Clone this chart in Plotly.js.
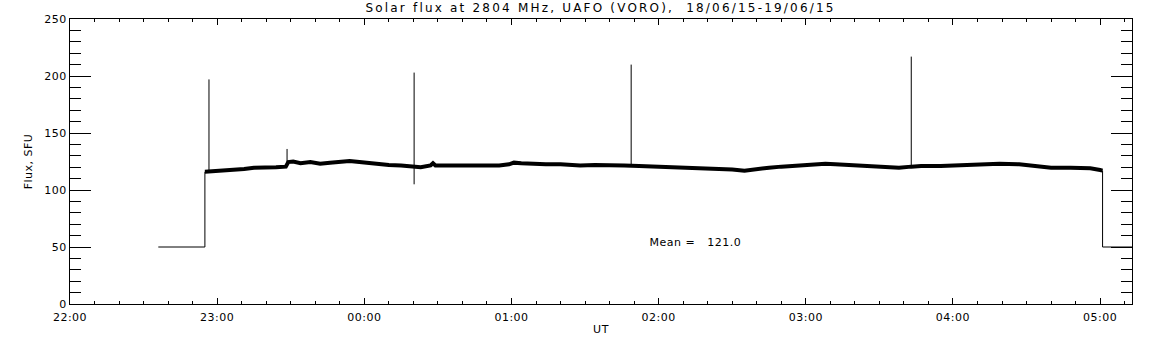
<!DOCTYPE html>
<html>
<head>
<meta charset="utf-8">
<script src="https://cdn.plot.ly/plotly-3.0.1.min.js"></script>
<style>
html,body{margin:0;padding:0;background:#fff;}
#chart{width:1152px;height:345px;}
#chart .gtitle{letter-spacing:2.2px;}
#chart .xtick text, #chart .ytick text, #chart .annotation-text, #chart .xtitle, #chart .ytitle{letter-spacing:0.5px;}
</style>
</head>
<body>
<div id="chart"></div>
<script>
// ---- data (UT times, flux in SFU) ----
const titleText = 'Solar flux at 2804 MHz, UAFO (VORO),\u00a0\u00a018/06/15-19/06/15';
const meanText = 'Mean =\u00a0\u00a0\u00a0121.0';

// receiver off (calibration level) before and after the record
const offBeforeTimes = ['22:36:00', '22:55:00'];
const offBeforeFlux = [50, 50];
const offAfterTimes = ['05:01:00', '05:13:00'];
const offAfterFlux = [50, 50];

// main record
const bandTimes = ['22:55:00','22:59:00','23:03:00','23:07:00','23:11:00','23:15:00','23:19:00','23:24:00','23:28:00',
  '23:29:00','23:31:00','23:34:00','23:38:00','23:42:00','23:46:00','23:50:00','23:54:00','23:58:00',
  '00:02:00','00:06:00','00:10:00','00:15:00','00:19:00','00:23:00','00:27:00','00:28:00','00:29:00','00:31:00',
  '00:37:00','00:43:00','00:49:00','00:55:00','00:59:00','01:01:00','01:04:00','01:08:00','01:14:00','01:20:00',
  '01:28:00','01:34:00','01:40:00','01:46:00','01:52:00','01:58:00','02:05:00','02:11:00','02:17:00','02:25:00',
  '02:30:00','02:35:00','02:38:00','02:41:00','02:45:00','02:50:00','02:56:00','03:02:00','03:08:00','03:12:00',
  '03:16:00','03:21:00','03:26:00','03:32:00','03:38:00','03:43:00','03:47:00','03:55:00','04:03:00','04:11:00',
  '04:19:00','04:27:00','04:33:00','04:40:00','04:48:00','04:56:00','05:00:00','05:01:00'];
const bandFlux = [116,116.5,117.5,118,118.5,119.5,119.5,120,120.5,
  124.5,125,123.5,124.5,123,124,125,125.5,124.5,
  123.5,122.5,122,121.5,121,120,121.5,123.5,121.5,121.5,
  121,121,121,121.5,122.5,124,123.5,123,122.5,122.5,
  121.5,122,122,121.5,121,120.5,120,119.5,119,119,
  118,117,117.5,118.5,119.5,120.5,121.5,122,123,122.5,
  122,121,121,120.5,119.5,120.5,121,121,121.5,122.5,
  123,122.5,121,119.5,119.5,119,117.5,117];

// short bursts / spikes
const spikeTimes = ['22:56:40', '23:28:30', '00:20:18', '01:48:48', '03:43:00'];
const spikeHigh = [197, 136, 203, 210, 217];
const spikeLow = [116, 121, 105, 121, 120];

// ---- helpers ----
function toDate(t) {
  const h = parseInt(t.slice(0, 2), 10);
  return (h >= 12 ? '2015-06-18 ' : '2015-06-19 ') + t;
}

// thin trace: calibration steps and spikes
const thinX = [], thinY = [];
offBeforeTimes.forEach((t, i) => { thinX.push(toDate(t)); thinY.push(offBeforeFlux[i]); });
thinX.push(toDate(bandTimes[0])); thinY.push(bandFlux[0]);
thinX.push(null); thinY.push(null);
spikeTimes.forEach((t, i) => {
  thinX.push(toDate(t)); thinY.push(spikeLow[i]);
  thinX.push(toDate(t)); thinY.push(spikeHigh[i]);
  thinX.push(null); thinY.push(null);
});
thinX.push(toDate(bandTimes[bandTimes.length - 1])); thinY.push(bandFlux[bandFlux.length - 1]);
offAfterTimes.forEach((t, i) => { thinX.push(toDate(t)); thinY.push(offAfterFlux[i]); });

const traces = [
  {
    x: bandTimes.map(toDate), y: bandFlux, type: 'scatter', mode: 'lines',
    line: {color: '#000', width: 4}, hoverinfo: 'skip'
  },
  {
    x: thinX, y: thinY, type: 'scatter', mode: 'lines', connectgaps: false,
    line: {color: '#000', width: 1}, hoverinfo: 'skip'
  }
];

const font = {family: 'DejaVu Sans, sans-serif', size: 11, color: '#000'};

const layout = {
  width: 1152, height: 345,
  margin: {l: 70, r: 20, t: 19, b: 41, pad: 0},
  paper_bgcolor: '#fff', plot_bgcolor: '#fff',
  showlegend: false,
  font: font,
  title: {text: titleText, font: {family: 'DejaVu Sans, sans-serif', size: 12, color: '#000'},
          x: 0.5213, xref: 'container', xanchor: 'center', y: 0.978, yref: 'container', yanchor: 'middle'},
  xaxis: {
    type: 'date',
    range: ['2015-06-18 22:00:00', '2015-06-19 05:13:00'],
    tick0: '2015-06-18 22:00:00', dtick: 3600000, tickformat: '%H:%M',
    ticks: 'inside', ticklen: 6, tickwidth: 1, tickcolor: '#000', ticklabelstandoff: 3,
    minor: {dtick: 600000, ticks: 'inside', ticklen: 3, tickwidth: 1, tickcolor: '#000', showgrid: false},
    showline: true, linecolor: '#000', linewidth: 1, mirror: 'ticks',
    showgrid: false, zeroline: false, tickfont: font,
    title: {text: 'UT', font: font, standoff: 2}
  },
  yaxis: {
    range: [0, 250], tick0: 0, dtick: 50,
    ticks: 'inside', ticklen: 21, tickwidth: 1, tickcolor: '#000',
    minor: {dtick: 10, ticks: 'inside', ticklen: 11, tickwidth: 1, tickcolor: '#000', showgrid: false},
    showline: true, linecolor: '#000', linewidth: 1, mirror: 'ticks',
    showgrid: false, zeroline: false, tickfont: font,
    title: {text: 'Flux, SFU', font: font, standoff: 10}
  },
  annotations: [{
    text: meanText, xref: 'paper', yref: 'paper', x: 0.547, y: 0.2154,
    xanchor: 'left', yanchor: 'middle', showarrow: false, font: font
  }]
};

Plotly.newPlot('chart', traces, layout, {staticPlot: true, displayModeBar: false});
</script>
</body>
</html>
